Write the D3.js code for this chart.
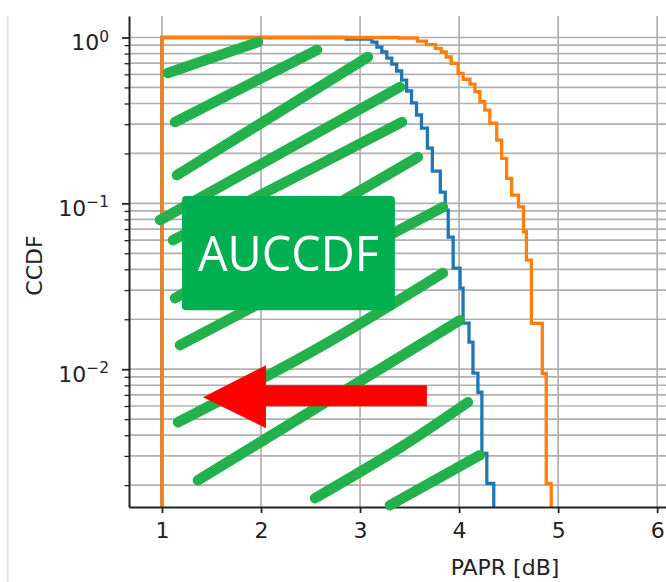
<!DOCTYPE html>
<html><head><meta charset="utf-8">
<script src="https://cdn.jsdelivr.net/npm/d3@7"></script>
<style>body{margin:0;background:#fff}svg{display:block}</style>
</head><body>
<svg id="c" width="666" height="582"></svg>
<script>
// ---- data ----
const blueDb   = [1.00, 1.00, 2.86, 3.12, 3.17, 3.22, 3.27, 3.32, 3.37, 3.42, 3.47, 3.52, 3.57, 3.62, 3.68, 3.73, 3.81, 3.86, 3.89, 3.94, 4.01, 4.04, 4.10, 4.14, 4.19, 4.23, 4.28, 4.35];
const blueCcdf = [0.0005, 1.0, 0.979, 0.939, 0.876, 0.818, 0.752, 0.692, 0.628, 0.554, 0.476, 0.403, 0.341, 0.284, 0.2155, 0.1565, 0.1169, 0.0911, 0.0626, 0.0407, 0.0308, 0.01894, 0.01455, 0.00946, 0.00726, 0.00311, 0.00205, 0.0005];
const orangeDb   = [1.00, 1.00, 3.39, 3.58, 3.67, 3.76, 3.82, 3.87, 3.92, 3.99, 4.04, 4.11, 4.16, 4.21, 4.26, 4.31, 4.38, 4.43, 4.48, 4.53, 4.60, 4.65, 4.68, 4.73, 4.84, 4.88, 4.93];
const orangeCcdf = [0.0005, 1.0, 0.993, 0.952, 0.907, 0.861, 0.818, 0.763, 0.699, 0.608, 0.560, 0.524, 0.471, 0.410, 0.365, 0.304, 0.2408, 0.1867, 0.1414, 0.1121, 0.0953, 0.0674, 0.0455, 0.01887, 0.00942, 0.00204, 0.0005];

const xTicks = [1, 2, 3, 4, 5, 6];
const yMajor = [1, 0.1, 0.01];
const yMajorLabels = [["10", "0"], ["10", "\u22121"], ["10", "\u22122"]];
const yMinor = [0.9,0.8,0.7,0.6,0.5,0.4,0.3,0.2, 0.09,0.08,0.07,0.06,0.05,0.04,0.03,0.02, 0.009,0.008,0.007,0.006,0.005,0.004,0.003,0.002];
const xLabel = "PAPR [dB]";
const yLabel = "CCDF";

// hand-drawn annotation strokes in data units
const strokeDb   = [[1.06,1.969],[1.131,2.565],[1.151,3.080],[0.980,3.403],[1.111,3.423],[1.131,3.584],[1.182,3.837],[1.162,2.567,3.837],[1.363,4.008],[2.545,3.403,4.089],[3.302,4.210]];
const strokeCcdf = [[0.611,0.939],[0.309,0.841],[0.148,0.763],[0.0793,0.503],[0.060,0.309],[0.0268,0.190],[0.01396,0.0949],[0.00479,0.0133,0.0380],[0.00214,0.01975],[0.001667,0.00336,0.00632],[0.001512,0.00303]];
const boxDb = [1.202, 3.352];
const boxCcdf = [0.1106, 0.0227];
const boxText = "AUCCDF";
const arrowDb = [1.414, 2.050, 3.675];          // tip, head base, tail
const arrowCcdf = [0.00678, 0.01057, 0.00441, 0.00801, 0.00598]; // tip, head top, head bottom, shaft top, shaft bottom

// ---- layout ----
const L = 129, T = 16, R = 881, B = 507;
const svg = d3.select("#c");
const x = d3.scaleLinear().domain([0.667, 8.26]).range([L, R]);
const y = d3.scaleLog().domain([1.476e-3, 1.348]).range([B, T]);
const FONT = "DejaVu Sans, sans-serif";

// notebook border line
svg.append("line").attr("x1", 7.5).attr("x2", 7.5).attr("y1", T).attr("y2", 582)
  .attr("stroke", "#e6e6e6").attr("stroke-width", 2);

svg.append("defs").append("clipPath").attr("id", "pc")
  .append("rect").attr("x", L).attr("y", T).attr("width", R - L).attr("height", B - T);

// grid
const grid = svg.append("g").attr("stroke", "#b0b0b0").attr("stroke-width", 1.7);
grid.selectAll(".gx").data(xTicks.concat([7, 8])).join("line")
  .attr("x1", d => x(d)).attr("x2", d => x(d)).attr("y1", T).attr("y2", B);
grid.selectAll(".gy").data(yMajor.concat(yMinor)).join("line")
  .attr("x1", L).attr("x2", R).attr("y1", d => y(d)).attr("y2", d => y(d));

// curves
const plot = svg.append("g").attr("clip-path", "url(#pc)");
const line = d3.line().x(d => x(d[0])).y(d => y(d[1])).curve(d3.curveStepAfter);
plot.append("path").datum(d3.zip(blueDb, blueCcdf)).attr("d", line)
  .attr("fill", "none").attr("stroke", "#1f77b4").attr("stroke-width", 3.3);
plot.append("path").datum(d3.zip(orangeDb, orangeCcdf)).attr("d", line)
  .attr("fill", "none").attr("stroke", "#ff7f0e").attr("stroke-width", 3.3);

// axes
const xAxis = svg.append("g").attr("transform", `translate(0,${B})`)
  .call(d3.axisBottom(x).tickValues(xTicks).tickFormat(d3.format("d")).tickSize(6).tickPadding(9).tickSizeOuter(0));
xAxis.select(".domain").attr("stroke", "#222").attr("stroke-width", 2);
xAxis.selectAll(".tick line").attr("stroke", "#222").attr("stroke-width", 1.8);
xAxis.selectAll(".tick text").attr("font-family", FONT).attr("font-size", 22).attr("fill", "#222");

const yAxis = svg.append("g").attr("transform", `translate(${L},0)`)
  .call(d3.axisLeft(y).tickValues(yMajor).tickFormat("").tickSize(7).tickSizeOuter(0));
yAxis.select(".domain").attr("stroke", "#222").attr("stroke-width", 2);
yAxis.selectAll(".tick line").attr("stroke", "#222").attr("stroke-width", 1.8);
const yMin = svg.append("g").attr("transform", `translate(${L},0)`)
  .call(d3.axisLeft(y).tickValues(yMinor).tickFormat("").tickSize(4.5).tickSizeOuter(0));
yMin.select(".domain").remove();
yMin.selectAll(".tick line").attr("stroke", "#222").attr("stroke-width", 1.3);

const yl = svg.append("g").attr("font-family", FONT).attr("fill", "#222");
yMajor.forEach((v, i) => {
  const t = yl.append("text").attr("x", 109).attr("y", y(v) + 12.5).attr("text-anchor", "end");
  t.append("tspan").attr("font-size", 22).text(yMajorLabels[i][0]);
  t.append("tspan").attr("font-size", 15.4).attr("dy", -8.5).text(yMajorLabels[i][1]);
});

svg.append("text").attr("x", (L + R) / 2).attr("y", 575).attr("text-anchor", "middle")
  .attr("font-family", FONT).attr("font-size", 22).attr("fill", "#222").text(xLabel);
svg.append("text").attr("transform", `translate(42,${(T + B) / 2 + 4}) rotate(-90)`)
  .attr("text-anchor", "middle").attr("font-family", FONT).attr("font-size", 22).attr("fill", "#222").text(yLabel);

// annotations
const ann = svg.append("g");
const sline = d3.line().x(d => x(d[0])).y(d => y(d[1])).curve(d3.curveCatmullRom);
strokeDb.forEach((xs, i) => {
  ann.append("path").attr("d", sline(d3.zip(xs, strokeCcdf[i])))
    .attr("fill", "none").attr("stroke", "#22b14c").attr("stroke-width", 10.5)
    .attr("stroke-linecap", "round").attr("stroke-linejoin", "round");
});
ann.append("rect").attr("x", x(boxDb[0])).attr("y", y(boxCcdf[0]))
  .attr("width", x(boxDb[1]) - x(boxDb[0])).attr("height", y(boxCcdf[1]) - y(boxCcdf[0]))
  .attr("rx", 4).attr("fill", "#00b050");
ann.append("text").attr("x", (x(boxDb[0]) + x(boxDb[1])) / 2).attr("y", 271)
  .attr("text-anchor", "middle").attr("font-family", "Open Sans, sans-serif").attr("font-size", 50)
  .attr("textLength", 181).attr("lengthAdjust", "spacingAndGlyphs")
  .attr("fill", "#fff").text(boxText);

const ap = [
  [arrowDb[0], arrowCcdf[0]], [arrowDb[1], arrowCcdf[1]], [arrowDb[1], arrowCcdf[3]],
  [arrowDb[2], arrowCcdf[3]], [arrowDb[2], arrowCcdf[4]], [arrowDb[1], arrowCcdf[4]],
  [arrowDb[1], arrowCcdf[2]]
];
ann.append("polygon").attr("points", ap.map(p => [x(p[0]), y(p[1])].join(",")).join(" "))
  .attr("fill", "#ff0000");
</script>
</body></html>
